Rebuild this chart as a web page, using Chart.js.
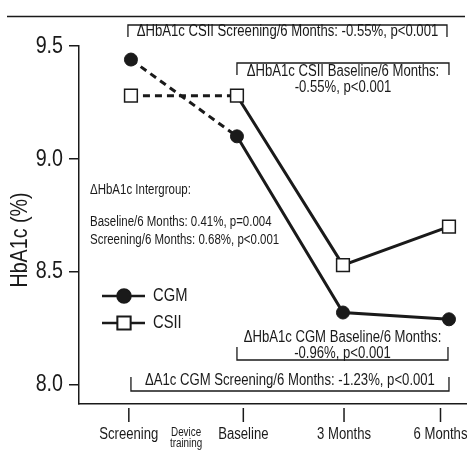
<!DOCTYPE html>
<html>
<head>
    <title>HbA1c CGM vs CSII</title>
    <script src="https://cdn.jsdelivr.net/npm/chart.js@4.4.0/dist/chart.umd.min.js"></script>
    <style>
        body { margin: 0; padding: 0; background: #fff; }
    </style>
</head>
<body>
    <canvas id="myChart" width="467" height="453"></canvas>
    <script>
        // Datos
        var visitas = ['Screening', 'Baseline', '3 Months', '6 Months'];
        var xVisitas = [0, 1, 2, 3];
        var cgm = [9.44, 9.10, 8.32, 8.29];
        var csii = [9.28, 9.28, 8.53, 8.70];
        var yTicks = [8.0, 8.5, 9.0, 9.5];
        var xTicks = [-0.02, 1.06, 2.01, 2.92];
        var xTickLabels = ['Screening', 'Baseline', '3 Months', '6 Months'];

        var fuente = '"Liberation Sans", Arial, sans-serif';
        var negro = '#1a1a1a';

        function puntos(vals) {
            return vals.map(function (v, i) { return { x: xVisitas[i], y: v }; });
        }

        // Texto estrecho (tipo Helvetica Condensed)
        function texto(ctx, s, x, y, tam, align) {
            ctx.save();
            ctx.font = tam + 'px ' + fuente;
            ctx.fillStyle = negro;
            ctx.textAlign = align || 'center';
            ctx.textBaseline = 'middle';
            ctx.translate(x, y);
            ctx.scale(0.82, 1);
            ctx.fillText(s, 0, 0);
            ctx.restore();
        }

        // Dibuja un corchete con texto
        function corchete(ctx, x1, x2, yLinea, yFin, lineas, yTexto, tam) {
            ctx.strokeStyle = negro;
            ctx.lineWidth = 1.3;
            ctx.beginPath();
            ctx.moveTo(x1, yFin);
            ctx.lineTo(x1, yLinea);
            ctx.lineTo(x2, yLinea);
            ctx.lineTo(x2, yFin);
            ctx.stroke();
            lineas.forEach(function (t, i) {
                texto(ctx, t, (x1 + x2) / 2, yTexto + i * 16, tam);
            });
        }

        var extras = {
            id: 'extras',
            afterDraw: function (chart) {
                var ctx = chart.ctx;
                var xs = chart.scales.x;
                var ys = chart.scales.y;
                var area = chart.chartArea;
                ctx.save();

                // linea superior
                ctx.strokeStyle = negro;
                ctx.lineWidth = 1.5;
                ctx.beginPath();
                ctx.moveTo(7, 16.5);
                ctx.lineTo(465, 16.5);
                ctx.stroke();

                // etiquetas del eje y
                yTicks.forEach(function (v) {
                    texto(ctx, v.toFixed(1), 63, ys.getPixelForValue(v), 24, 'right');
                });

                // marcas y etiquetas del eje x
                xTicks.forEach(function (v, i) {
                    var px = xs.getPixelForValue(v);
                    ctx.beginPath();
                    ctx.moveTo(px, area.bottom + 4);
                    ctx.lineTo(px, area.bottom + 18);
                    ctx.stroke();
                    texto(ctx, xTickLabels[i], px, area.bottom + 31, 16);
                });
                var pxDev = xs.getPixelForValue(0.52);
                texto(ctx, 'Device', pxDev, area.bottom + 29, 12);
                texto(ctx, 'training', pxDev, area.bottom + 40, 12);

                // titulo eje y
                ctx.save();
                ctx.translate(20, 240);
                ctx.rotate(-Math.PI / 2);
                texto(ctx, 'HbA1c (%)', 0, 0, 24);
                ctx.restore();

                // corchetes
                var x0 = xs.getPixelForValue(0), x1 = xs.getPixelForValue(1), x3 = xs.getPixelForValue(3);
                corchete(ctx, x0 - 3, x3 - 2, 25, 37, ['\u0394HbA1c CSII Screening/6 Months: -0.55%, p<0.001'], 32, 16);
                corchete(ctx, x1, x3, 63, 75, ['\u0394HbA1c CSII Baseline/6 Months:', '-0.55%, p<0.001'], 72, 16);
                corchete(ctx, x1, x3 - 1, 360, 347, ['\u0394HbA1c CGM Baseline/6 Months:', '-0.96%, p<0.001'], 338, 16);
                corchete(ctx, x0, x3, 391, 377, ['\u0394A1c CGM Screening/6 Months: -1.23%, p<0.001'], 381, 16);

                // texto intergrupo
                texto(ctx, '\u0394HbA1c Intergroup:', 90, 190, 14, 'left');
                texto(ctx, 'Baseline/6 Months: 0.41%, p=0.004', 90, 222, 14, 'left');
                texto(ctx, 'Screening/6 Months: 0.68%, p<0.001', 90, 240, 14, 'left');

                // leyenda
                var items = [
                    { texto: 'CGM', y: 296, ds: chart.data.datasets[0] },
                    { texto: 'CSII', y: 323, ds: chart.data.datasets[1] }
                ];
                items.forEach(function (it) {
                    ctx.strokeStyle = negro;
                    ctx.lineWidth = 2.5;
                    ctx.beginPath();
                    ctx.moveTo(102, it.y);
                    ctx.lineTo(145, it.y);
                    ctx.stroke();
                    Chart.helpers.drawPoint(ctx, {
                        pointStyle: it.ds.pointStyle,
                        radius: it.ds.pointRadius,
                        borderWidth: it.ds.pointBorderWidth
                    }, 124, it.y);
                    ctx.fillStyle = it.ds.pointBackgroundColor;
                    ctx.strokeStyle = negro;
                    ctx.lineWidth = it.ds.pointBorderWidth;
                    ctx.fill();
                    ctx.stroke();
                    texto(ctx, it.texto, 153, it.y, 18, 'left');
                });

                ctx.restore();
            }
        };

        var discontinuo = function (c) { return c.p0DataIndex === 0 ? [7, 5] : undefined; };

        var ctx = document.getElementById('myChart').getContext('2d');
        var myChart = new Chart(ctx, {
            type: 'line',
            data: {
                datasets: [{
                    label: 'CGM',
                    data: puntos(cgm),
                    borderColor: negro,
                    borderWidth: 3,
                    pointStyle: 'circle',
                    pointRadius: 6.5,
                    pointBorderWidth: 1,
                    pointBackgroundColor: negro,
                    pointBorderColor: negro,
                    segment: { borderDash: discontinuo },
                    tension: 0,
                    clip: false
                }, {
                    label: 'CSII',
                    data: puntos(csii),
                    borderColor: negro,
                    borderWidth: 3,
                    pointStyle: 'rect',
                    pointRadius: 9,
                    pointBorderWidth: 1.5,
                    pointBackgroundColor: '#ffffff',
                    pointBorderColor: negro,
                    segment: { borderDash: discontinuo },
                    tension: 0,
                    clip: false
                }]
            },
            options: {
                responsive: false,
                animation: false,
                layout: { autoPadding: false, padding: { top: 46, left: 0, right: 0, bottom: 0 } },
                plugins: {
                    legend: { display: false },
                    tooltip: { enabled: false }
                },
                scales: {
                    x: {
                        type: 'linear',
                        min: -0.49,
                        max: 3.17,
                        afterFit: function (s) { s.height = 49; },
                        ticks: { display: false },
                        grid: { display: true, drawOnChartArea: false, drawTicks: false, color: negro },
                        border: { display: true, color: negro, width: 1.5 }
                    },
                    y: {
                        min: 7.915,
                        max: 9.5,
                        afterFit: function (s) { s.width = 79; },
                        afterBuildTicks: function (s) {
                            s.ticks = yTicks.map(function (v) { return { value: v }; });
                        },
                        ticks: {
                            color: 'rgba(0,0,0,0)',
                            padding: 6,
                            font: { family: fuente, size: 20 },
                            callback: function (v) { return v.toFixed(1); }
                        },
                        grid: { drawOnChartArea: false, drawTicks: true, tickLength: 10, color: negro, lineWidth: 1.5 },
                        border: { display: true, color: negro, width: 1.5 }
                    }
                }
            },
            plugins: [extras]
        });
    </script>
</body>
</html>
